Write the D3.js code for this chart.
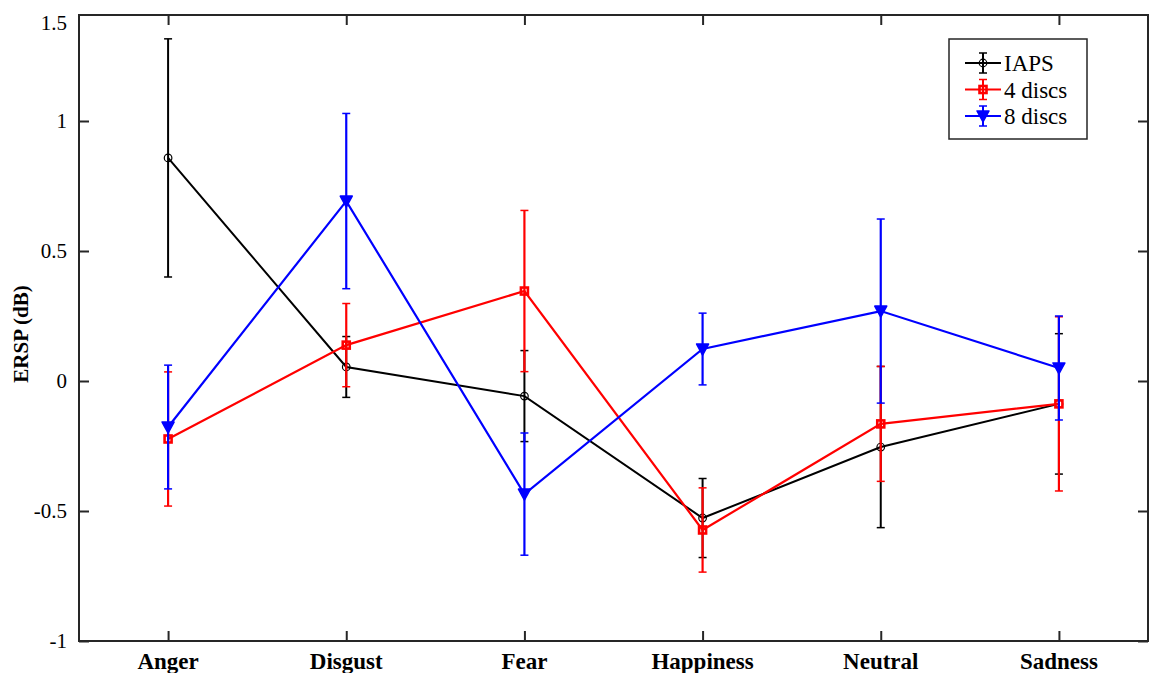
<!DOCTYPE html>
<html lang="en">
<head>
<meta charset="utf-8">
<title>ERSP by emotion</title>
<script src="https://cdn.jsdelivr.net/npm/d3@7/dist/d3.min.js"></script>
<style>
  body { margin: 0; background: #fff; }
</style>
</head>
<body>
<script>
    // data
    var categories = ["Anger", "Disgust", "Fear", "Happiness", "Neutral", "Sadness"];
    var iapsMean = [0.858, 0.054, -0.058, -0.527, -0.254, -0.088];
    var iapsErr  = [0.458, 0.117, 0.175, 0.152, 0.310, 0.270];
    var disc4Mean = [-0.223, 0.138, 0.346, -0.573, -0.165, -0.088];
    var disc4Err  = [0.258, 0.160, 0.310, 0.162, 0.221, 0.335];
    var disc8Mean = [-0.177, 0.692, -0.435, 0.123, 0.269, 0.050];
    var disc8Err  = [0.238, 0.337, 0.235, 0.138, 0.354, 0.200];
    var yTicks = [-1, -0.5, 0, 0.5, 1];
    var yTopLabel = "1.5";

    var series = [
        {name: "IAPS", color: "#000000", marker: "circle", mean: iapsMean, err: iapsErr},
        {name: "4 discs", color: "#ff0000", marker: "square", mean: disc4Mean, err: disc4Err},
        {name: "8 discs", color: "#0000ff", marker: "triangle", mean: disc8Mean, err: disc8Err}
    ];

    var width = 1157, height = 673;
    var pLeft = 79, pRight = 1148, pTop = 15, pBottom = 641;
    var serif = "'Liberation Serif', 'Times New Roman', Times, serif";

    var svg = d3.select("body").append("svg")
        .attr("width", width)
        .attr("height", height);

    var x = d3.scaleLinear().domain([0.5, 6.5]).range([pLeft, pRight]);
    // -1 sits on the bottom edge, 0 at 381 px; the top edge is a little under 1.5
    var y = d3.scaleLinear().domain([-1, 0]).range([pBottom, 381]);

    var axisColor = "#262626";

    // axes (ticks inward)
    var xAxis = d3.axisBottom(x).tickValues(d3.range(1, 7)).tickSize(-10).tickFormat("");
    var xAxisTop = d3.axisTop(x).tickValues(d3.range(1, 7)).tickSize(-10).tickFormat("");
    var yAxis = d3.axisLeft(y).tickValues(yTicks).tickSize(-10).tickPadding(12)
        .tickFormat(function(d) { return d; });
    var yAxisRight = d3.axisRight(y).tickValues(yTicks).tickSize(-10).tickFormat("");

    function styleAxis(g) {
        g.select(".domain").remove();
        g.selectAll(".tick line").attr("stroke", axisColor).attr("stroke-width", 2);
    }

    svg.append("g").attr("transform", "translate(0," + pBottom + ")").call(xAxis).call(styleAxis);
    svg.append("g").attr("transform", "translate(0," + pTop + ")").call(xAxisTop).call(styleAxis);
    var gy = svg.append("g").attr("transform", "translate(" + pLeft + ",0)").call(yAxis).call(styleAxis);
    svg.append("g").attr("transform", "translate(" + pRight + ",0)").call(yAxisRight).call(styleAxis);

    gy.attr("font-size", 21);
    gy.selectAll(".tick text").attr("fill", "#000");

    svg.append("text")
        .attr("x", pLeft - 12)
        .attr("y", pTop + 8)
        .attr("dy", "0.32em")
        .attr("text-anchor", "end")
        .attr("font-size", 21)
        .text(yTopLabel);

    // frame
    svg.append("rect")
        .attr("x", pLeft).attr("y", pTop)
        .attr("width", pRight - pLeft).attr("height", pBottom - pTop)
        .attr("fill", "none")
        .attr("stroke", axisColor)
        .attr("stroke-width", 2);

    // category labels
    svg.selectAll(".cat")
        .data(categories)
        .enter()
        .append("text")
        .attr("class", "cat")
        .attr("x", function(d, i) { return x(i + 1); })
        .attr("y", 669)
        .attr("text-anchor", "middle")
        .attr("font-weight", "bold")
        .attr("font-size", 23)
        .attr("textLength", null)
        .text(function(d) { return d; });

    svg.append("text")
        .attr("transform", "translate(28,334) rotate(-90)")
        .attr("text-anchor", "middle")
        .attr("font-weight", "bold")
        .attr("font-size", 21)
        .text("ERSP (dB)");

    var line = d3.line()
        .x(function(d, i) { return x(i + 1); })
        .y(function(d) { return y(d); });

    function drawMarker(g, type, color, cx, cy) {
        if (type === "circle") {
            g.append("circle").attr("cx", cx).attr("cy", cy).attr("r", 3.8)
                .attr("fill", "none").attr("stroke", color).attr("stroke-width", 1.2);
        } else if (type === "square") {
            g.append("rect").attr("x", cx - 3.5).attr("y", cy - 3.5)
                .attr("width", 7).attr("height", 7)
                .attr("fill", "none").attr("stroke", color).attr("stroke-width", 2.6);
        } else {
            g.append("path")
                .attr("d", "M" + (cx - 6) + "," + (cy - 5) + "L" + (cx + 6) + "," + (cy - 5) + "L" + cx + "," + (cy + 6) + "Z")
                .attr("fill", color).attr("stroke", color).attr("stroke-width", 1.5)
                .attr("stroke-linejoin", "round");
        }
    }

    series.forEach(function(s) {
        var g = svg.append("g");
        var lw = s.marker === "circle" ? 2 : 2.2;

        // error bars
        s.mean.forEach(function(m, i) {
            var cx = x(i + 1);
            var y1 = y(m + s.err[i]), y2 = y(m - s.err[i]);
            g.append("line").attr("x1", cx).attr("x2", cx).attr("y1", y1).attr("y2", y2)
                .attr("stroke", s.color).attr("stroke-width", lw);
            [y1, y2].forEach(function(yy) {
                g.append("line").attr("x1", cx - 4).attr("x2", cx + 4).attr("y1", yy).attr("y2", yy)
                    .attr("stroke", s.color).attr("stroke-width", 1.5);
            });
        });

        g.append("path")
            .datum(s.mean)
            .attr("d", line)
            .attr("fill", "none")
            .attr("stroke", s.color)
            .attr("stroke-width", lw);

        s.mean.forEach(function(m, i) {
            drawMarker(g, s.marker, s.color, x(i + 1), y(m));
        });
    });

    // legend
    var lg = svg.append("g");
    lg.append("rect")
        .attr("x", 949).attr("y", 39).attr("width", 138).attr("height", 100)
        .attr("fill", "#fff").attr("stroke", axisColor).attr("stroke-width", 1.5);

    series.forEach(function(s, i) {
        var ly = 63 + i * 26.5;
        var cx = 983;
        lg.append("line").attr("x1", 965).attr("x2", 1001).attr("y1", ly).attr("y2", ly)
            .attr("stroke", s.color).attr("stroke-width", 2);
        lg.append("line").attr("x1", cx).attr("x2", cx).attr("y1", ly - 10).attr("y2", ly + 10)
            .attr("stroke", s.color).attr("stroke-width", 2);
        [ly - 10, ly + 10].forEach(function(yy) {
            lg.append("line").attr("x1", cx - 4).attr("x2", cx + 4).attr("y1", yy).attr("y2", yy)
                .attr("stroke", s.color).attr("stroke-width", 1.5);
        });
        drawMarker(lg, s.marker, s.color, cx, ly);
        lg.append("text")
            .attr("x", 1004).attr("y", ly)
            .attr("dy", "0.35em")
            .attr("font-size", 23)
            .text(s.name);
    });

    // Times-like face everywhere
    svg.selectAll("text").style("font-family", serif);
</script>
</body>
</html>
